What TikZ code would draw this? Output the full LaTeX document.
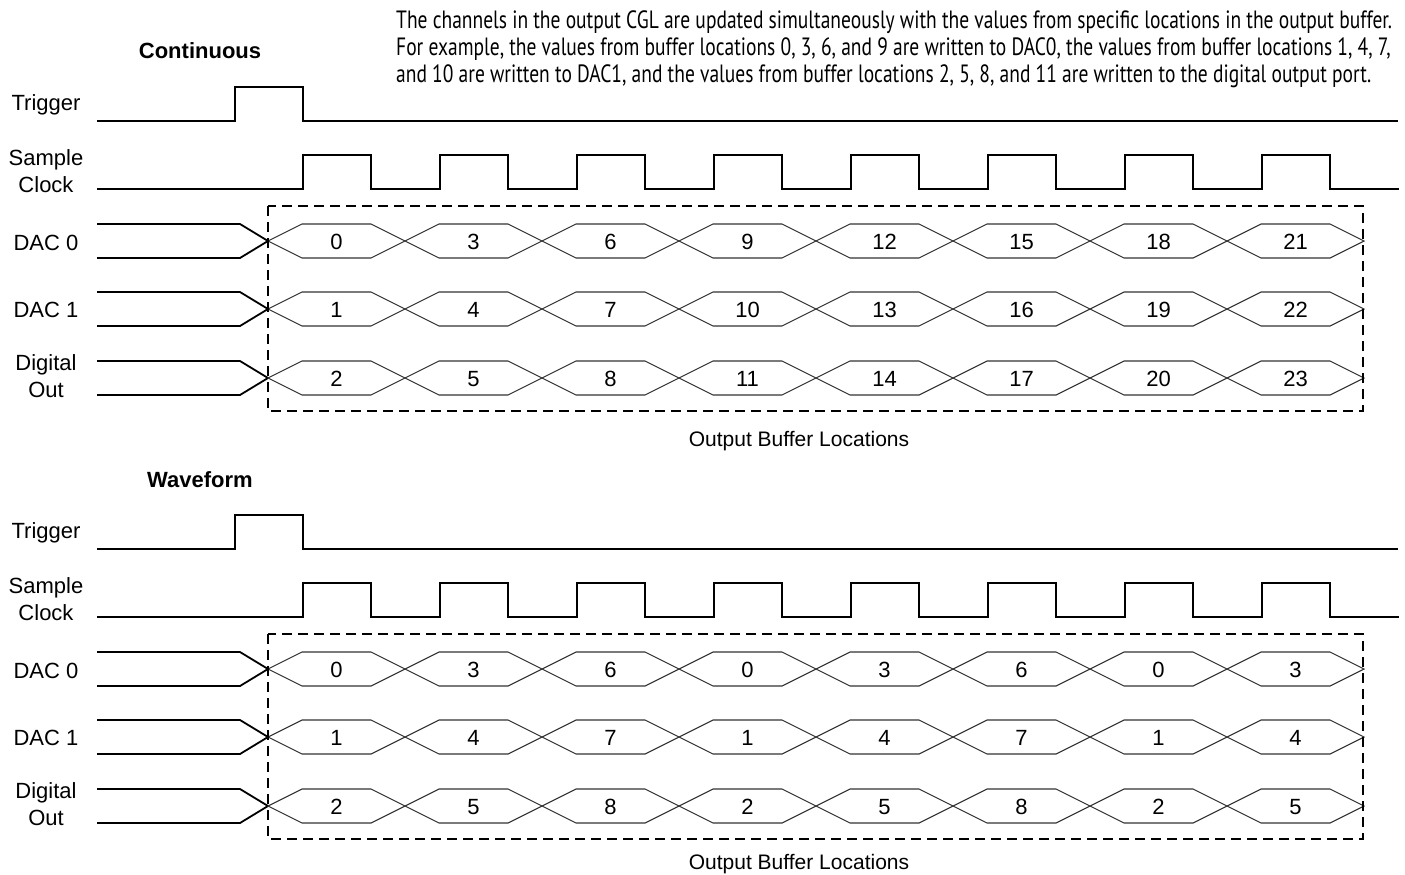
\documentclass[tikz,border=0pt]{standalone}
\usepackage{fontspec}
\setmainfont{Liberation Sans}
\newfontfamily\notefont[FakeStretch=0.78]{PT Sans}
\begin{document}
\begin{tikzpicture}[x=1pt,y=-1pt,
  sig/.style={line width=1.8pt,line join=miter},
  bus/.style={line width=1.1pt,black!80},
  frame/.style={line width=1.8pt,dash pattern=on 10pt off 6pt},
  lbl/.style={font=\fontsize{22}{26}\selectfont,anchor=base,inner sep=0pt}]
\useasboundingbox (0,0) rectangle (1405,875);
\node[anchor=north west,inner sep=0pt,align=left,font=\notefont\fontsize{25}{27.4}\selectfont] (note) at (396,10)
 {The channels in the output CGL are updated simultaneously with the values from specific locations in the output buffer.\\
  For example, the values from buffer locations 0, 3, 6, and 9 are written to DAC0, the values from buffer locations 1, 4, 7,\\
  and 10 are written to DAC1, and the values from buffer locations 2, 5, 8, and 11 are written to the digital output port.};
\foreach \s/\ttl in {0/Continuous,1/Waveform}{
  \begin{scope}[shift={(0,428*\s)}]
    \node[lbl,font=\fontsize{22}{26}\selectfont\bfseries] (title\s) at (200,59) {\ttl};
    \node[lbl] (trig\s) at (46,110) {Trigger};
    \node[lbl] (smp\s) at (46,165) {Sample};
    \node[lbl] (clk\s) at (46,192) {Clock};
    \node[lbl] (dacA\s) at (46,250) {DAC 0};
    \node[lbl] (dacB\s) at (46,317) {DAC 1};
    \node[lbl] (dig\s) at (46,370) {Digital};
    \node[lbl] (out\s) at (46,397) {Out};
    % trigger and clock
    \draw[sig] (97,121) -- (235,121) -- (235,87) -- (303,87) -- (303,121) -- (1398,121);
    \draw[sig] (97,189) -- (303,189) foreach \k in {0,...,7}{ -- ++(0,-34) -- ++(68,0) -- ++(0,34) -- ++(69,0)};
    % buses
    \foreach \r/\yc in {0/241,1/309,2/378}{
      \draw[sig] (97,\yc-17) -- (240,\yc-17) -- (268,\yc) -- (240,\yc+17) -- (97,\yc+17);
      \foreach \k in {0,...,7}{
        \pgfmathsetmacro\xa{268+137*\k}
        \pgfmathtruncatemacro\val{ifthenelse(\s==0,3*\k+\r,3*mod(\k,3)+\r)}
        \draw[bus] (\xa,\yc) -- ++(34,-17) -- ++(69,0) -- ++(34,17) -- ++(-34,17) -- ++(-69,0) -- cycle;
        \node[lbl] (v\s\r\k) at (\xa+68.5,\yc+8) {\val};
      }
    }
    \draw[frame] (268,206) rectangle (1363,411);
    \node[lbl,font=\fontsize{21}{25}\selectfont] (obl\s) at (799,446-5*\s) {Output Buffer Locations};
  \end{scope}
}
\end{tikzpicture}
\end{document}
